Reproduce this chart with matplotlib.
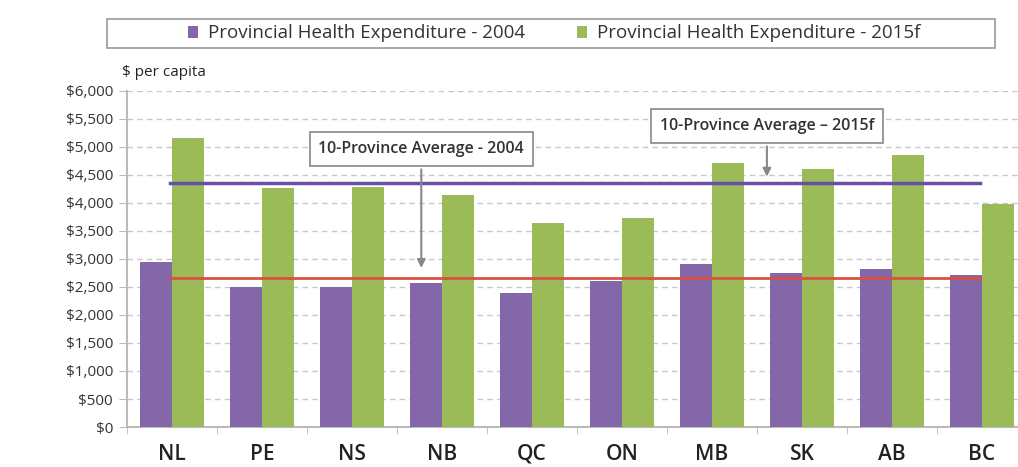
import matplotlib.pyplot as plt
import numpy as np
from matplotlib.ticker import FuncFormatter
from matplotlib.patches import Rectangle

provinces = ["NL", "PE", "NS", "NB", "QC", "ON", "MB", "SK", "AB", "BC"]
depenses_2004 = [2950, 2500, 2500, 2570, 2390, 2610, 2910, 2750, 2820, 2710]
depenses_2015 = [5160, 4270, 4290, 4140, 3650, 3740, 4720, 4600, 4860, 3990]
moyenne_2004 = 2660
moyenne_2015 = 4360
yticks = list(range(0, 6001, 500))

VIOLET = "#8467a9"
VERT = "#9bbb59"

plt.rcParams["font.family"] = ["Open Sans", "DejaVu Sans"]

fig = plt.figure(figsize=(10.18, 4.67), dpi=100)
ax = fig.add_axes([127 / 1018, 1 - 427 / 467, 900 / 1018, 336 / 467])

x = np.arange(len(provinces))
larg = 0.36
b1 = ax.bar(x - larg / 2, depenses_2004, larg, color=VIOLET, zorder=3,
            label="Provincial Health Expenditure - 2004")
b2 = ax.bar(x + larg / 2, depenses_2015, larg, color=VERT, zorder=3,
            label="Provincial Health Expenditure - 2015f")

# lignes des moyennes
ax.plot([-0.02, 8.98], [moyenne_2015, moyenne_2015], color="#6a4fa6", lw=2.5, zorder=4)
ax.plot([-0.02, 8.98], [moyenne_2004, moyenne_2004], color="#d9503f", lw=2, zorder=4)

ax.set_xlim(-0.5, 9.5)
ax.set_ylim(0, 6000)
ax.set_yticks(yticks)
ax.yaxis.set_major_formatter(FuncFormatter(lambda v, p: f"${int(v):,}"))
ax.set_xticks(x)
ax.set_xticklabels(provinces, fontsize=15, color="#222222", fontweight="semibold")
ax.set_xticks(np.arange(-0.5, 10, 1), minor=True)
ax.tick_params(axis="x", which="major", length=0, pad=12)
ax.tick_params(axis="x", which="minor", length=5, color="#bbbbbb")
ax.tick_params(axis="y", length=6, color="#bbbbbb", labelsize=11, labelcolor="#333333", pad=4)

ax.grid(axis="y", linestyle=(0, (4, 3)), color="#c8c8c8", lw=1, zorder=0)
for s in ["top", "right"]:
    ax.spines[s].set_visible(False)
ax.spines["left"].set_color("#bbbbbb")
ax.spines["left"].set_linewidth(1.5)
ax.spines["bottom"].set_color("#bbbbbb")
ax.spines["bottom"].set_linewidth(1.5)

fig.text(122 / 1018, 1 - 73 / 467, "$ per capita", fontsize=11, color="#222222", va="center")

# annotations
boite = dict(boxstyle="square,pad=0.55", fc="white", ec="#888888", lw=1.2)
fleche = dict(arrowstyle="-|>", color="#888888", lw=1.5, mutation_scale=12)
ax.annotate("10-Province Average - 2004", xy=(2.77, moyenne_2004 + 130), xytext=(2.77, 4960),
            ha="center", va="center", fontsize=11.5, fontweight="semibold", color="#333333",
            bbox=boite, arrowprops=fleche, zorder=6)
ax.annotate("10-Province Average \u2013 2015f", xy=(6.61, moyenne_2015 + 60), xytext=(6.61, 5370),
            ha="center", va="center", fontsize=11.5, fontweight="semibold", color="#333333",
            bbox=boite, arrowprops=fleche, zorder=6)

# légende
fig.patches.append(Rectangle((107 / 1018, 1 - 48 / 467), 888 / 1018, 29 / 467,
                             transform=fig.transFigure, fc="white", ec="#999999", lw=1.2))
leg = fig.legend(handles=[b1, b2], loc="center", ncol=2,
                 bbox_to_anchor=(554 / 1018, 1 - 33.5 / 467),
                 fontsize=13.5, frameon=False, columnspacing=2.8,
                 handlelength=0.55, handleheight=0.55, handletextpad=0.5)
for t in leg.get_texts():
    t.set_color("#333333")

fig.savefig("out.png", dpi=100)
